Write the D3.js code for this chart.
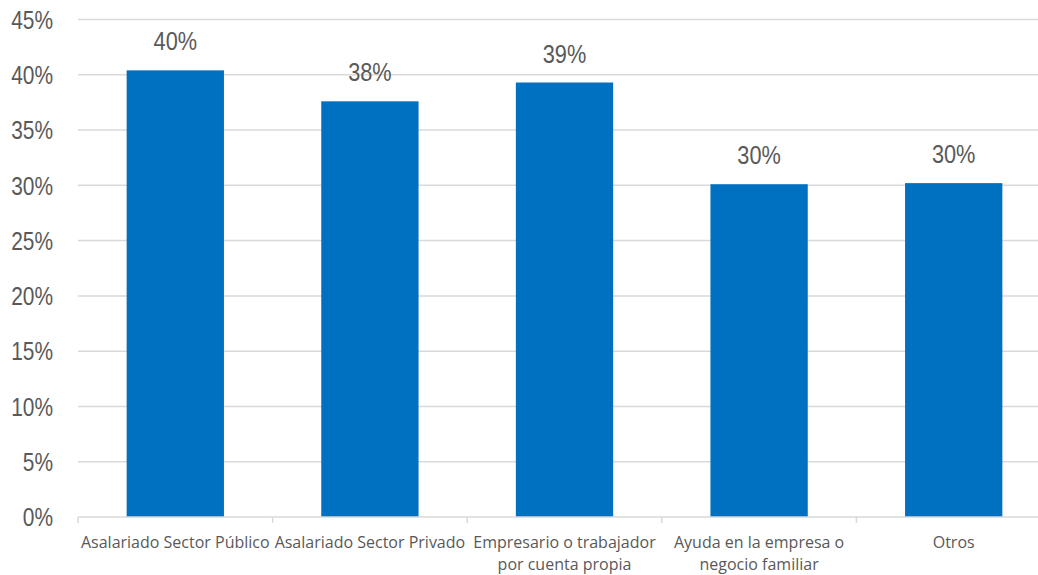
<!DOCTYPE html>
<html>
<head>
<meta charset="utf-8">
<script src="https://cdn.jsdelivr.net/npm/d3@7"></script>
<style>
  html, body { margin: 0; padding: 0; background: #fff; }
  svg { display: block; }
  .num { font-family: "Liberation Sans", Arial, sans-serif; fill: #595959; }
  .cat { font-family: "Open Sans", "Noto Sans", sans-serif; fill: #595959; }
</style>
</head>
<body>
<script>
const categories = [
  ["Asalariado Sector Público"],
  ["Asalariado Sector Privado"],
  ["Empresario o trabajador", "por cuenta propia"],
  ["Ayuda en la empresa o", "negocio familiar"],
  ["Otros"]
];
const categoryKeys = ["Asalariado Sector Público", "Asalariado Sector Privado", "Empresario o trabajador por cuenta propia", "Ayuda en la empresa o negocio familiar", "Otros"];
const values = [0.404, 0.376, 0.393, 0.301, 0.302];
const yTicks = [0, 0.05, 0.10, 0.15, 0.20, 0.25, 0.30, 0.35, 0.40, 0.45];

const W = 1038, H = 575;
const mLeft = 78, mRight = 1051, mTop = 19.5, mBottom = 517;
const narrow = 0.82;

const svg = d3.select("body").append("svg").attr("width", W).attr("height", H);

const x = d3.scaleBand().domain(categoryKeys).range([mLeft, mRight]).paddingInner(0.5).paddingOuter(0.25);
const y = d3.scaleLinear().domain([0, 0.45]).range([mBottom, mTop]);
const fmt = d3.format(".0%");

// gridlines
svg.append("g").selectAll("line").data(yTicks.filter(t => t > 0)).join("line")
  .attr("x1", mLeft).attr("x2", mRight)
  .attr("y1", d => y(d)).attr("y2", d => y(d))
  .attr("stroke", "#d9d9d9").attr("stroke-width", 1.5);

// y tick labels (condensed)
svg.append("g").selectAll("text").data(yTicks).join("text")
  .attr("class", "num")
  .attr("transform", d => `translate(53,${y(d)}) scale(${narrow},1)`)
  .attr("dy", "0.36em")
  .attr("text-anchor", "end").attr("font-size", 25.5)
  .text(d => fmt(d));

// bars
svg.append("g").selectAll("rect").data(values).join("rect")
  .attr("x", (d, i) => x(categoryKeys[i]))
  .attr("width", x.bandwidth())
  .attr("y", d => y(d))
  .attr("height", d => y(0) - y(d))
  .attr("fill", "#0070C0");

// x axis line & ticks
svg.append("line").attr("x1", mLeft).attr("x2", mRight).attr("y1", mBottom).attr("y2", mBottom)
  .attr("stroke", "#d9d9d9").attr("stroke-width", 1.5);
const step = x.step();
const bounds = categoryKeys.map((k, i) => x(k) - step * 0.25).concat([mRight]);
svg.append("g").selectAll("line").data(bounds).join("line")
  .attr("x1", d => d).attr("x2", d => d).attr("y1", mBottom).attr("y2", mBottom + 6)
  .attr("stroke", "#d9d9d9").attr("stroke-width", 1.5);

// value labels (condensed)
svg.append("g").selectAll("text").data(values).join("text")
  .attr("class", "num")
  .attr("transform", (d, i) => `translate(${x(categoryKeys[i]) + x.bandwidth() / 2},${y(d) - 20}) scale(${narrow},1)`)
  .attr("text-anchor", "middle").attr("font-size", 26.5)
  .text(d => fmt(d));

// category labels
const cg = svg.append("g").selectAll("text").data(categories).join("text")
  .attr("class", "cat")
  .attr("font-size", 16)
  .attr("text-anchor", "middle")
  .attr("x", (d, i) => x(categoryKeys[i]) + x.bandwidth() / 2)
  .attr("y", 548);
cg.selectAll("tspan").data(d => d).join("tspan")
  .attr("x", function () { return this.parentNode.getAttribute("x"); })
  .attr("dy", (d, i) => i === 0 ? 0 : 22)
  .text(d => d);
</script>
</body>
</html>
